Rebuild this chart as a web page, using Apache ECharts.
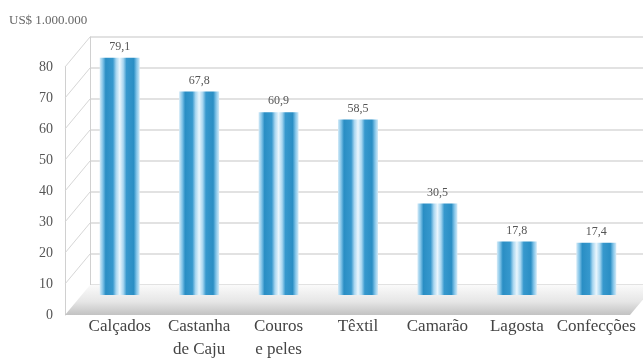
<!DOCTYPE html>
<html>
<head>
<meta charset="utf-8">
<script src="https://cdn.jsdelivr.net/npm/echarts@6/dist/echarts.min.js"></script>
<style>
  html, body { margin: 0; padding: 0; background: #ffffff; }
  #chart { width: 643px; height: 361px; }
</style>
</head>
<body>
<div id="chart"></div>
<script>
// Exportações por produto (US$ 1.000.000)
const categories = ['Calçados', 'Castanha\nde Caju', 'Couros\ne peles', 'Têxtil', 'Camarão', 'Lagosta', 'Confecções'];
const values = [79.1, 67.8, 60.9, 58.5, 30.5, 17.8, 17.4];
const yMin = 0;
const yMax = 80;
const yStep = 10;
const unitTitle = 'US$ 1.000.000';
const floorTicks = [10, 20, 30, 40, 50, 60, 70, 80];

const SERIF = '"Liberation Serif", "DejaVu Serif", serif';
// perspective offset between the front edge and the back wall
const DEPTH_X = 25, DEPTH_Y = -30;

const chart = echarts.init(document.getElementById('chart'), null, { renderer: 'canvas' });

const barGradient = new echarts.graphic.LinearGradient(0, 0, 1, 0, [
  { offset: 0.00, color: '#d4ebf8' },
  { offset: 0.08, color: '#7fc2e7' },
  { offset: 0.15, color: '#2a8ec4' },
  { offset: 0.33, color: '#3698cd' },
  { offset: 0.41, color: '#a8d6f0' },
  { offset: 0.50, color: '#eaf6fd' },
  { offset: 0.59, color: '#a8d6f0' },
  { offset: 0.67, color: '#3698cd' },
  { offset: 0.85, color: '#2a8ec4' },
  { offset: 0.92, color: '#7fc2e7' },
  { offset: 1.00, color: '#d4ebf8' }
]);

chart.setOption({
  backgroundColor: '#ffffff',
  animation: false,
  title: {
    text: unitTitle,
    left: 4, top: 9,
    textStyle: { fontFamily: SERIF, fontSize: 13, fontWeight: 'normal', color: '#666' }
  },
  grid: [
    // back wall
    { left: 90, right: 0, top: 37, bottom: 76 },
    // front value axis and floor
    { left: 65, right: 13, top: 67, bottom: 46 },
    // columns
    { left: 80, right: 7, top: 55, bottom: 58 }
  ],
  xAxis: [
    { gridIndex: 0, type: 'value', min: 0, max: 1, show: false },
    { gridIndex: 1, type: 'value', min: 0, max: 1, show: false },
    {
      gridIndex: 2, type: 'category', data: categories,
      axisLine: { show: false }, axisTick: { show: false },
      axisLabel: {
        interval: 0, margin: 20, fontFamily: SERIF, fontSize: 17,
        lineHeight: 23, color: '#444'
      }
    }
  ],
  yAxis: [
    {
      gridIndex: 0, type: 'value', min: yMin, max: yMax, interval: yStep,
      axisLabel: { show: false }, axisTick: { show: false },
      axisLine: { show: true, lineStyle: { color: '#d0d0d0', width: 1 } },
      splitLine: { show: true, lineStyle: { color: '#d9d9d9', width: 1.5 } }
    },
    {
      gridIndex: 1, type: 'value', min: yMin, max: yMax, interval: yStep,
      axisTick: { show: false },
      axisLine: { show: true, lineStyle: { color: '#d0d0d0', width: 1 } },
      splitLine: { show: false },
      axisLabel: { margin: 12, fontFamily: SERIF, fontSize: 14, color: '#555' }
    },
    { gridIndex: 2, type: 'value', min: yMin, max: yMax, show: false }
  ],
  series: [
    {
      // floor plane
      type: 'custom', xAxisIndex: 1, yAxisIndex: 1, z: 1, silent: true,
      data: [[0, 0]],
      renderItem: function (params, api) {
        const cs = params.coordSys;
        const y0 = api.coord([0, 0])[1];
        return {
          type: 'polygon',
          shape: { points: [
            [cs.x, y0], [cs.x + DEPTH_X, y0 + DEPTH_Y],
            [cs.x + cs.width + DEPTH_X, y0 + DEPTH_Y], [cs.x + cs.width, y0]
          ] },
          style: {
            fill: new echarts.graphic.LinearGradient(0, 0, 0, 1, [
              { offset: 0, color: '#fafafa' },
              { offset: 0.55, color: '#e6e6e6' },
              { offset: 1, color: '#c2c2c2' }
            ])
          }
        };
      }
    },
    {
      // side-wall tick lines running from the front axis to the back wall
      type: 'custom', xAxisIndex: 1, yAxisIndex: 1, z: 2, silent: true,
      data: floorTicks.map(v => [0, v]),
      renderItem: function (params, api) {
        const p = api.coord([0, api.value(1)]);
        return {
          type: 'line',
          shape: { x1: p[0], y1: p[1], x2: p[0] + DEPTH_X, y2: p[1] + DEPTH_Y },
          style: { stroke: '#d6d6d6', lineWidth: 1 }
        };
      }
    },
    {
      type: 'bar', xAxisIndex: 2, yAxisIndex: 2, z: 5,
      data: values,
      barWidth: 40,
      itemStyle: { color: barGradient },
      label: {
        show: true, position: 'top', distance: 5,
        fontFamily: SERIF, fontSize: 12, color: '#555',
        formatter: p => p.value.toFixed(1).replace('.', ',')
      }
    }
  ]
});
</script>
</body>
</html>
